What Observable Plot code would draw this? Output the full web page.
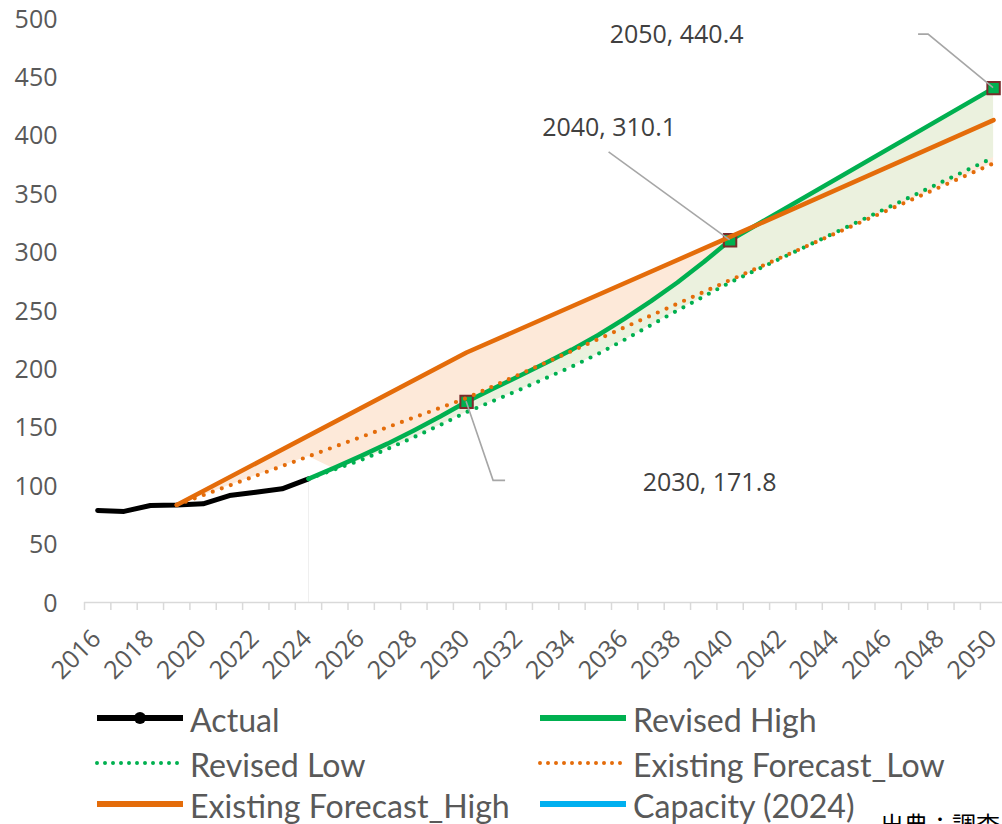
<!DOCTYPE html>
<html>
<head>
<meta charset="utf-8">
<script src="https://cdn.jsdelivr.net/npm/d3@7"></script>
<script src="https://cdn.jsdelivr.net/npm/@observablehq/plot@0.6"></script>
<style>
  html, body { margin: 0; padding: 0; background: #fff; overflow: hidden; }
  #chart { position: relative; width: 1002px; height: 824px; overflow: hidden; }
  #chart svg { display: block; }
</style>
</head>
<body>
<div id="chart"></div>
<script>
// ---- Categories and ticks ----
const categoryYears = [2016, 2017, 2018, 2019, 2020, 2021, 2022, 2023, 2024, 2025, 2026, 2027,
  2028, 2029, 2030, 2031, 2032, 2033, 2034, 2035, 2036, 2037, 2038, 2039, 2040, 2041, 2042,
  2043, 2044, 2045, 2046, 2047, 2048, 2049, 2050];
const xTickLabels = [2016, 2018, 2020, 2022, 2024, 2026, 2028, 2030, 2032, 2034, 2036, 2038,
  2040, 2042, 2044, 2046, 2048, 2050];
const yTicks = [0, 50, 100, 150, 200, 250, 300, 350, 400, 450, 500];

// ---- Series ----
const actualYears = [2016, 2017, 2018, 2019, 2020, 2021, 2022, 2023, 2024];
const actualValues = [78.8, 78.0, 83.0, 83.5, 84.5, 91.6, 94.4, 97.3, 105.9];

const revisedYears = [2024, 2025, 2026, 2027, 2028, 2029, 2030, 2031, 2032, 2033, 2034,
  2035, 2036, 2037, 2038, 2039, 2040, 2050];
const revisedHigh = [105.9, 115.5, 125.5, 136.0, 147.3, 159.2, 171.8, 183.0, 194.0, 205.0,
  216.5, 229.0, 243.0, 258.0, 274.0, 291.5, 310.1, 440.4];
const revisedLow = [105.9, 114.0, 122.0, 131.5, 141.5, 152.0, 163.0, 172.5, 182.0, 192.0,
  202.0, 213.0, 225.0, 237.5, 250.0, 262.0, 274.0, 381.0];

const existingYears = [2019, 2030, 2040, 2050];
const existingHigh = [83.5, 214.0, 313.0, 413.0];
const existingLow = [83.5, 175.0, 276.0, 376.0];

// Milestones of the revised high path that get a callout
const calloutYears = [2030, 2040, 2050];

// ---- Derived tables ----
const toRows = (xs, vs) => xs.map((x, i) => ({year: x, value: vs[i]}));
const actualRows = toRows(actualYears, actualValues);
const revHighRows = toRows(revisedYears, revisedHigh);
const revLowRows = toRows(revisedYears, revisedLow);
const exHighRows = toRows(existingYears, existingHigh);
const exLowRows = toRows(existingYears, existingLow);
const callouts = calloutYears.map(y => ({year: y, value: revisedHigh[revisedYears.indexOf(y)]}));

// straight segments between the listed points, the same path the lines follow
const along = (xs, vs) => d3.scaleLinear().domain(xs).range(vs);
const exHighAt = along(existingYears, existingHigh);
const exLowAt = along(existingYears, existingLow);
const revHighAt = along(revisedYears, revisedHigh);
const revLowAt = along(revisedYears, revisedLow);
const bandYears = Array.from(new Set([...categoryYears, ...existingYears, ...revisedYears]))
  .sort((a, b) => a - b);

const existingBand = bandYears.filter(y => y >= existingYears[0]).map(y => ({
  year: y,
  hi: exHighAt(y),
  lo: y <= revisedYears[0] ? exLowAt(y) : Math.min(exLowAt(y), revLowAt(y))
}));
const revisedBand = bandYears.filter(y => y >= revisedYears[0]).map(y => ({
  year: y, hi: revHighAt(y), lo: revLowAt(y)
}));

// category boundaries for the axis tick marks
const boundaries = [...categoryYears.map(y => y - 0.5), categoryYears[categoryYears.length - 1] + 0.5];

// ---- Colours ----
const GREEN = "#00b050", ORANGE = "#e46c0a", BLACK = "#000000", BLUE = "#00b0f0";
const PEACH = "#fde9d9", MINT = "#ebf1de";
const DOTS = "0 9.6";

// callout placement relative to its marker (pixels)
const calloutLayout = {
  2030: {dx: 243, dy: 81, leader: [[27, 79], [39, 79]]},
  2040: {dx: -121, dy: -112, leader: [[-121, -88]]},
  2050: {dx: -317, dy: -53, leader: [[-65, -53.5], [-75, -53.5]]}
};

function leaderLines(index, scales) {
  const g = d3.create("svg:g")
    .attr("fill", "none").attr("stroke", "#a6a6a6").attr("stroke-width", 1.6);
  for (const c of callouts) {
    const px = scales.x(c.year), py = scales.y(c.value);
    const pts = [[px, py], ...calloutLayout[c.year].leader.map(([dx, dy]) => [px + dx, py + dy])];
    g.append("path").attr("d", d3.line()(pts));
  }
  return g.node();
}

const fmt = d3.format(".1f");

const chart = Plot.plot({
  width: 1002,
  height: 680,
  marginTop: 18,
  marginBottom: 78,
  marginLeft: 84,
  marginRight: 0,
  x: {type: "linear", domain: [boundaries[0], boundaries[boundaries.length - 1]], range: [84, 1006.25]},
  y: {domain: [0, 500], range: [602, 18]},
  style: {fontFamily: "'Open Sans', sans-serif", background: "#fff", overflow: "visible"},
  marks: [
    // shaded ranges
    Plot.areaY(existingBand, {x: "year", y1: "lo", y2: "hi", fill: PEACH, curve: "linear"}),
    Plot.areaY(revisedBand, {x: "year", y1: "lo", y2: "hi", fill: MINT, curve: "linear"}),
    Plot.ruleX([revisedYears[0]], {y1: 0, y2: actualValues[actualValues.length - 1], stroke: "#efefef", strokeWidth: 1}),

    // axes
    Plot.ruleY([0], {stroke: "#d9d9d9", strokeWidth: 1.5}),
    Plot.axisX({ticks: boundaries, tickSize: 8, tickFormat: () => "", stroke: "#d9d9d9", strokeWidth: 1.5, label: null}),
    Plot.axisY({ticks: yTicks, tickSize: 0, tickPadding: 27, fontSize: 25, color: "#595959", label: null, dy: 1}),
    Plot.text(xTickLabels, {x: d => d, y: 0, text: d => String(d), rotate: -45, textAnchor: "end",
      dx: -1, dy: 32, fontSize: 25, fill: "#595959"}),

    // series
    Plot.line(actualRows, {x: "year", y: "value", stroke: BLACK, strokeWidth: 5, strokeLinecap: "round", strokeLinejoin: "round"}),
    Plot.line(revHighRows, {x: "year", y: "value", stroke: GREEN, strokeWidth: 4.5, strokeLinejoin: "round"}),
    Plot.dot(callouts, {x: "year", y: "value", symbol: "square", r: 7, fill: GREEN, stroke: "#7a2a2a", strokeWidth: 2}),
    Plot.line(revLowRows, {x: "year", y: "value", stroke: GREEN, strokeWidth: 4.2, strokeDasharray: DOTS, strokeLinecap: "round"}),
    Plot.line(exLowRows, {x: "year", y: "value", stroke: ORANGE, strokeWidth: 4.2, strokeDasharray: DOTS, strokeLinecap: "round"}),
    Plot.line(exHighRows, {x: "year", y: "value", stroke: ORANGE, strokeWidth: 4.5, strokeLinejoin: "round"}),

    // callouts
    leaderLines,
    ...callouts.map(c => Plot.text([c], {x: "year", y: "value", text: d => `${d.year}, ${fmt(d.value)}`,
      dx: calloutLayout[c.year].dx, dy: calloutLayout[c.year].dy, fontSize: 25, fill: "#404040"}))
  ]
});

const host = document.getElementById("chart");
host.appendChild(chart);

// ---- Legend ----
const legendItems = [
  {label: "Actual", color: BLACK, dash: null, marker: true, col: 0, row: 0},
  {label: "Revised High", color: GREEN, dash: null, col: 1, row: 0},
  {label: "Revised Low", color: GREEN, dash: "0 8", col: 0, row: 1},
  {label: "Existing Forecast_Low", color: ORANGE, dash: "0 8", col: 1, row: 1},
  {label: "Existing Forecast_High", color: ORANGE, dash: null, col: 0, row: 2},
  {label: "Capacity (2024)", color: BLUE, dash: null, col: 1, row: 2}
];
const colX = [97, 540], rowY = [38, 83, 124];

const legend = d3.create("svg")
  .attr("width", 1002).attr("height", 144)
  .style("font-family", "Lato, 'Open Sans', sans-serif");

const texts = [];
for (const it of legendItems) {
  const x0 = colX[it.col], y0 = rowY[it.row];
  legend.append("line")
    .attr("x1", x0).attr("x2", x0 + 86).attr("y1", y0).attr("y2", y0)
    .attr("stroke", it.color)
    .attr("stroke-width", it.dash ? 4 : 6)
    .attr("stroke-linecap", it.dash ? "round" : "butt")
    .attr("stroke-dasharray", it.dash);
  if (it.marker) {
    legend.append("circle").attr("cx", x0 + 43).attr("cy", y0).attr("r", 6).attr("fill", it.color);
  }
  const t = legend.append("text")
    .attr("x", 0).attr("y", 0)
    .attr("font-size", 33)
    .attr("fill", "#595959")
    .attr("dominant-baseline", "central")
    .text(it.label);
  texts.push({t, x: x0 + 93, y: y0 + 1, it});
}

legend.append("text")
  .attr("x", 880).attr("y", 154)
  .attr("font-family", "'Noto Sans CJK JP', sans-serif")
  .attr("font-size", 24)
  .attr("fill", "#000")
  .text("出典：調査");

host.appendChild(legend.node());

// narrow the legend lettering to the legend's column width
const widest = texts.find(d => d.it.label === "Existing Forecast_High").t.node().getComputedTextLength();
const squeeze = widest > 0 ? 320 / widest : 1;
for (const d of texts) d.t.attr("transform", `translate(${d.x},${d.y}) scale(${squeeze},1)`);
</script>
</body>
</html>
